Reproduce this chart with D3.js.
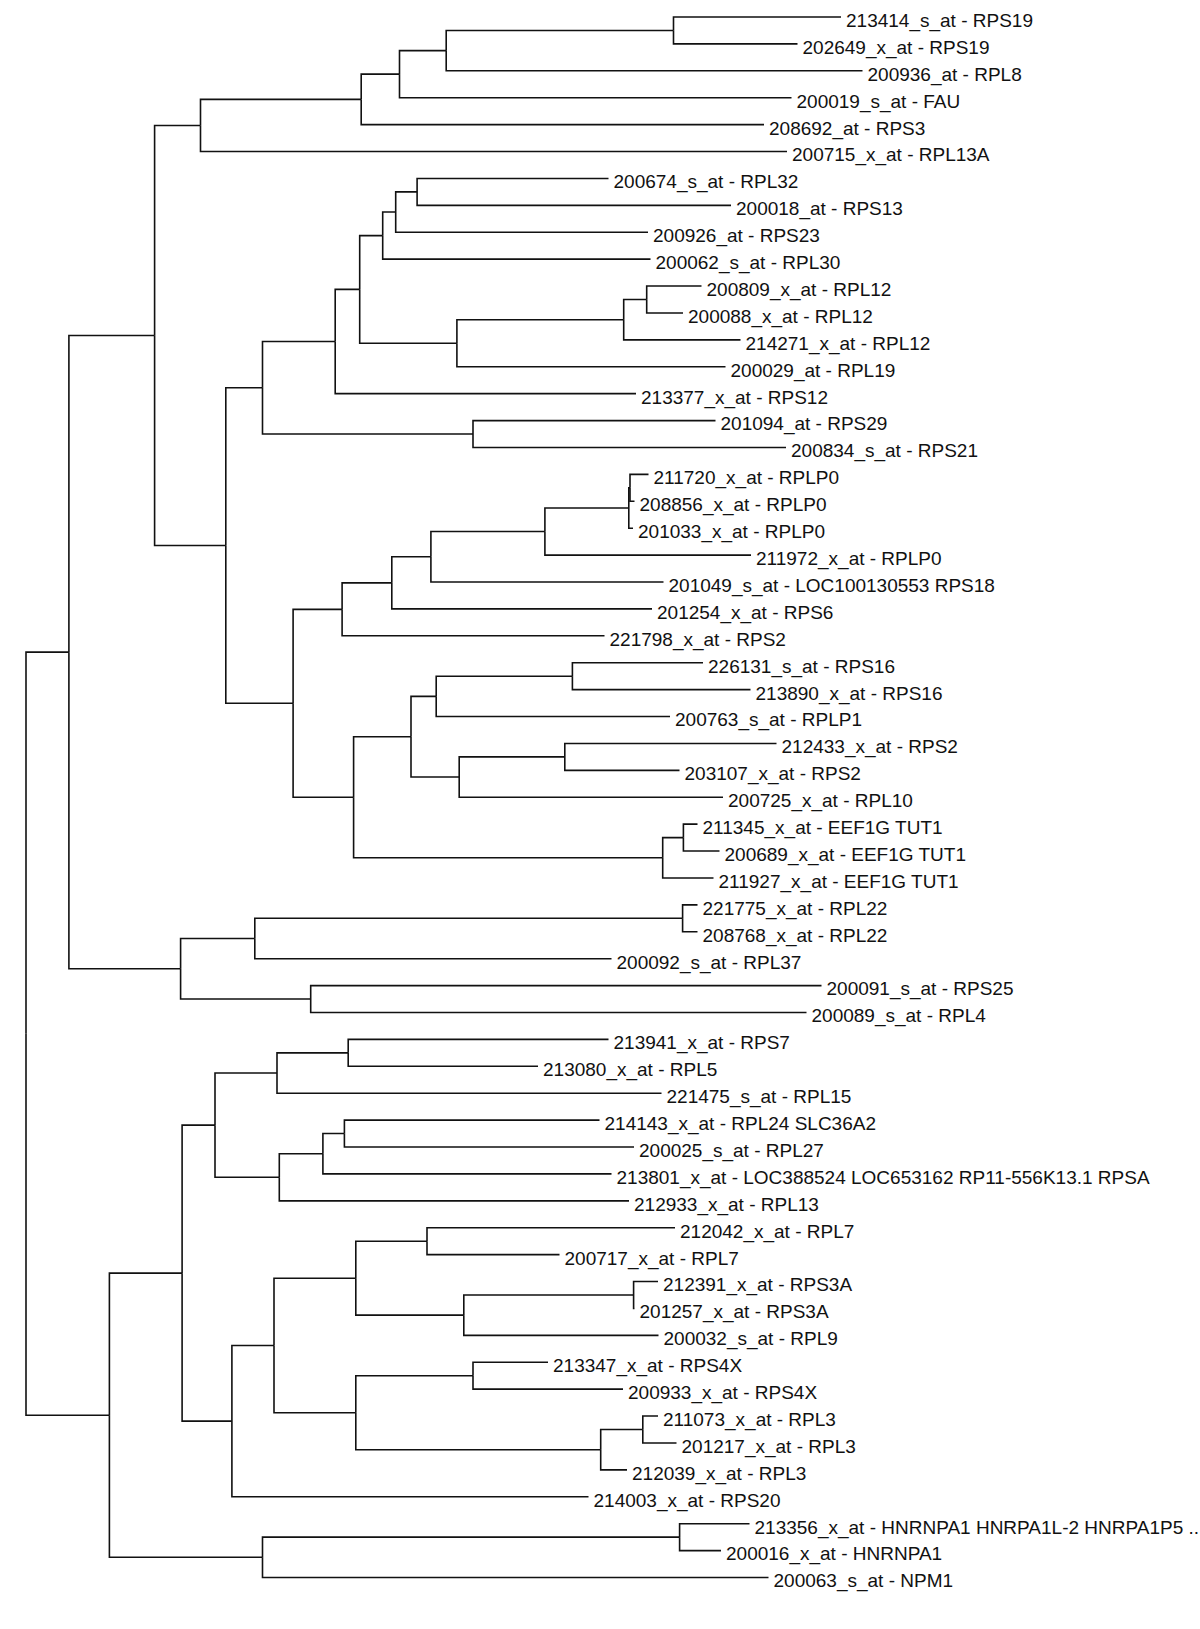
<!DOCTYPE html>
<html><head><meta charset="utf-8">
<script src="https://cdn.jsdelivr.net/npm/d3@7"></script>
<style>html,body{margin:0;padding:0;background:#fff}</style>
</head><body>
<svg id="chart" width="1200" height="1629"></svg>
<script>
const leafLabels = [
"213414_s_at - RPS19","202649_x_at - RPS19","200936_at - RPL8","200019_s_at - FAU","208692_at - RPS3","200715_x_at - RPL13A",
"200674_s_at - RPL32","200018_at - RPS13","200926_at - RPS23","200062_s_at - RPL30","200809_x_at - RPL12","200088_x_at - RPL12",
"214271_x_at - RPL12","200029_at - RPL19","213377_x_at - RPS12","201094_at - RPS29","200834_s_at - RPS21","211720_x_at - RPLP0",
"208856_x_at - RPLP0","201033_x_at - RPLP0","211972_x_at - RPLP0","201049_s_at - LOC100130553 RPS18","201254_x_at - RPS6","221798_x_at - RPS2",
"226131_s_at - RPS16","213890_x_at - RPS16","200763_s_at - RPLP1","212433_x_at - RPS2","203107_x_at - RPS2","200725_x_at - RPL10",
"211345_x_at - EEF1G TUT1","200689_x_at - EEF1G TUT1","211927_x_at - EEF1G TUT1","221775_x_at - RPL22","208768_x_at - RPL22","200092_s_at - RPL37",
"200091_s_at - RPS25","200089_s_at - RPL4","213941_x_at - RPS7","213080_x_at - RPL5","221475_s_at - RPL15","214143_x_at - RPL24 SLC36A2",
"200025_s_at - RPL27","213801_x_at - LOC388524 LOC653162 RP11-556K13.1 RPSA","212933_x_at - RPL13","212042_x_at - RPL7","200717_x_at - RPL7","212391_x_at - RPS3A",
"201257_x_at - RPS3A","200032_s_at - RPL9","213347_x_at - RPS4X","200933_x_at - RPS4X","211073_x_at - RPL3","201217_x_at - RPL3",
"212039_x_at - RPL3","214003_x_at - RPS20","213356_x_at - HNRNPA1 HNRPA1L-2 HNRPA1P5 ..","200016_x_at - HNRNPA1","200063_s_at - NPM1"
];
// distance of each leaf from the root
const leafDepth = [
8.15,7.715,8.365,7.655,7.38,7.61,
5.825,7.05,6.22,6.245,6.755,6.57,
7.145,6.995,6.10,6.895,7.60,6.225,
6.085,6.07,7.25,6.375,6.26,5.785,
6.77,7.245,6.44,7.505,6.535,6.97,
6.715,6.935,6.875,6.715,6.715,5.855,
7.955,7.805,5.825,5.12,6.355,5.735,
6.08,5.855,6.03,6.49,5.335,6.32,
6.085,6.325,5.22,5.97,6.32,6.505,
6.01,5.625,7.235,6.95,7.425
];
// merges: negative = leaf (1-based), positive = earlier merge (1-based)
const mergePairs = [
[-1,-2],[1,-3],[2,-4],[3,-5],[4,-6],
[-7,-8],[6,-9],[7,-10],[-11,-12],[9,-13],
[10,-14],[8,11],[12,-15],[-16,-17],[13,14],
[-18,-19],[16,-20],[17,-21],[18,-22],[19,-23],
[20,-24],[-25,-26],[22,-27],[-28,-29],[24,-30],
[23,25],[-31,-32],[27,-33],[26,28],[21,29],
[15,30],[5,31],[-34,-35],[33,-36],[-37,-38],
[34,35],[32,36],[-39,-40],[38,-41],[-42,-43],
[40,-44],[41,-45],[39,42],[-46,-47],[-48,-49],
[45,-50],[44,46],[-51,-52],[-53,-54],[49,-55],
[48,50],[47,51],[52,-56],[43,53],[-57,-58],
[55,-59],[54,56],[37,57]
];
const mergeDepth = [
6.475,4.202,3.735,3.352,1.745,
3.911,3.697,3.567,6.207,5.977,
4.309,3.337,3.092,4.470,2.365,
6.040,6.028,5.189,4.049,3.658,
3.161,5.464,4.102,5.388,4.332,
3.850,6.574,6.367,3.276,2.671,
1.998,1.286,6.566,2.288,2.847,
1.546,0.429,3.222,2.510,3.184,
2.969,2.533,1.890,4.010,6.076,
4.378,3.298,4.470,6.168,5.747,
3.298,2.480,2.059,1.561,6.536,
2.365,0.834,0
];

function build(ref) {
  if (ref < 0) { const i = -ref - 1; return {name: leafLabels[i], dist: leafDepth[i], leaf: i}; }
  const m = ref - 1;
  return {name: "node" + ref, dist: mergeDepth[m], children: mergePairs[m].map(build)};
}
const root = d3.hierarchy(build(mergePairs.length));

const x = d3.scaleLinear().domain([0, 8.5]).range([26, 876]);
const y = d3.scalePoint().domain(d3.range(leafLabels.length)).range([17, 1577.5]);

root.eachAfter(n => {
  n.px = x(n.data.dist);
  n.py = n.children
    ? (n.children[0].py + n.children[n.children.length - 1].py) / 2
    : y(n.data.leaf);
});

const svg = d3.select("#chart");
svg.append("rect").attr("width", 1200).attr("height", 1629).attr("fill", "#fff");

svg.append("g")
  .attr("fill", "none")
  .attr("stroke", "#111")
  .attr("stroke-width", 1.6)
  .selectAll("path")
  .data(root.links())
  .join("path")
  .attr("d", l => `M${l.source.px},${l.source.py}V${l.target.py}H${l.target.px}`);

svg.append("g")
  .attr("font-family", "'Liberation Sans', Arial, Helvetica, sans-serif")
  .attr("font-size", 19)
  .attr("fill", "#111")
  .selectAll("text")
  .data(root.leaves())
  .join("text")
  .attr("x", d => d.px + 5)
  .attr("y", d => d.py)
  .attr("dy", "0.52em")
  .text(d => d.data.name);
</script>
</body></html>
